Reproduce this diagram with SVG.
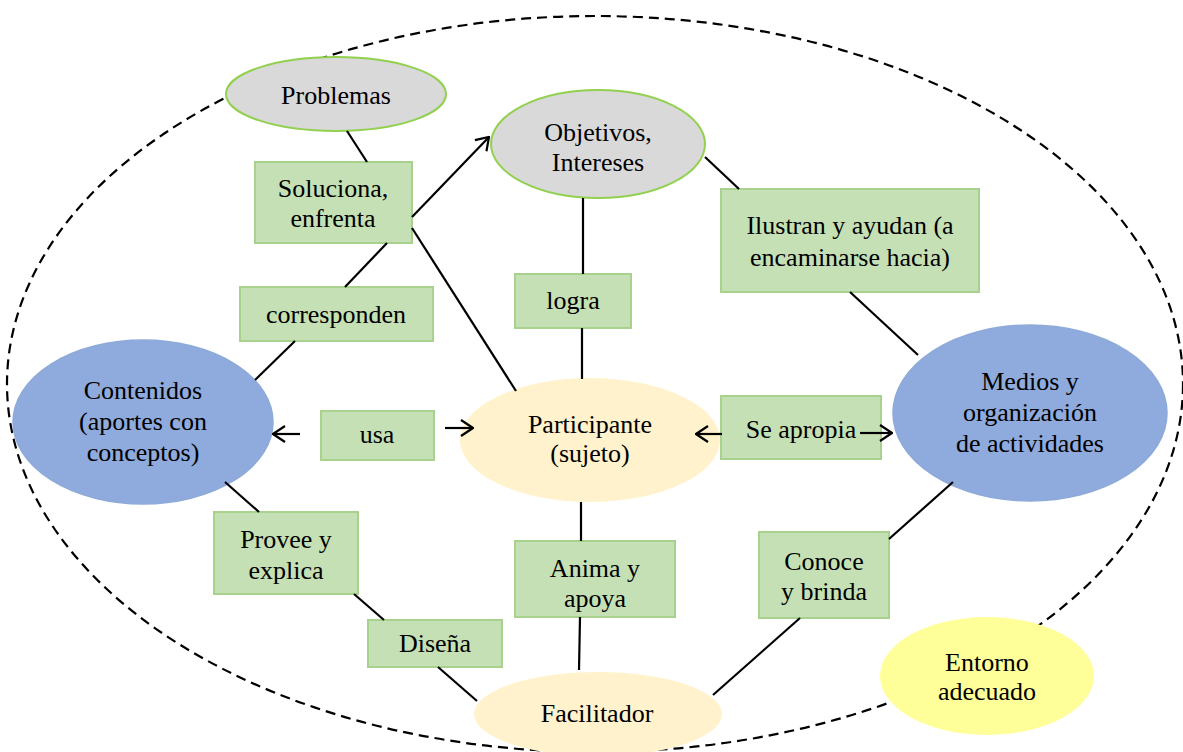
<svg xmlns="http://www.w3.org/2000/svg" width="1183" height="752" viewBox="0 0 1183 752" font-family="'Liberation Serif', 'Times New Roman', 'DejaVu Serif', serif">
<style>
text{font-family:'Liberation Serif','Times New Roman','DejaVu Serif',serif;font-size:26px;fill:#000;text-anchor:middle}
.box{fill:#c5e0b4;stroke:#a9d18e;stroke-width:2}
.gray{fill:#d9d9d9;stroke:#92d050;stroke-width:2}
.blue{fill:#8faadc;stroke:#8eaad8;stroke-width:1.5}
.cream{fill:#fff2cc}
.yellow{fill:#ffff99}
.ln{stroke:#000;stroke-width:2.2;fill:none}
.arr{stroke:#000;stroke-width:2.2;fill:none;marker-end:url(#ah)}
</style>
<defs>
<marker id="ah" viewBox="0 0 14 18" refX="13" refY="9" markerWidth="14" markerHeight="18" markerUnits="userSpaceOnUse" orient="auto">
<path d="M1,1 L13,9 L1,17" fill="none" stroke="#000" stroke-width="2.2"/>
</marker>
</defs>
<rect width="1183" height="752" fill="#fff"/>
<ellipse id="boundary" cx="595" cy="384" rx="588" ry="368" fill="none" stroke="#000" stroke-width="2.2" stroke-dasharray="10 6"/>

<g id="n-problemas"><ellipse class="gray" cx="336" cy="94" rx="110" ry="37"/><text x="336" y="104">Problemas</text></g>
<g id="n-objetivos"><ellipse class="gray" cx="598" cy="144" rx="107" ry="54"/><text x="598" y="141">Objetivos,</text><text x="598" y="171">Intereses</text></g>
<g id="n-soluciona"><rect class="box" x="255" y="162" width="157" height="81"/><text x="333" y="197">Soluciona,</text><text x="333" y="227">enfrenta</text></g>
<g id="n-corresponden"><rect class="box" x="240" y="287" width="193" height="54"/><text x="336" y="323">corresponden</text></g>
<g id="n-logra"><rect class="box" x="515" y="274" width="116" height="54"/><text x="573" y="309">logra</text></g>
<g id="n-ilustran"><rect class="box" x="721" y="189" width="258" height="103"/><text x="850" y="234">Ilustran y ayudan (a</text><text x="850" y="266">encaminarse hacia)</text></g>
<g id="n-contenidos"><ellipse class="blue" cx="143" cy="422" rx="130" ry="82"/><text x="143" y="399">Contenidos</text><text x="143" y="430">(aportes con</text><text x="143" y="461">conceptos)</text></g>
<g id="n-usa"><rect class="box" x="321" y="411" width="113" height="49"/><text x="377" y="443">usa</text></g>
<g id="n-participante"><ellipse class="cream" cx="590" cy="440" rx="130" ry="62"/><text x="590" y="433">Participante</text><text x="590" y="462">(sujeto)</text></g>
<g id="n-seapropia"><rect class="box" x="721" y="396" width="160" height="63"/><text x="801" y="438">Se apropia</text></g>
<g id="n-medios"><ellipse class="blue" cx="1030" cy="413" rx="137" ry="88"/><text x="1030" y="390">Medios y</text><text x="1030" y="421">organización</text><text x="1030" y="452">de actividades</text></g>
<g id="n-provee"><rect class="box" x="214" y="512" width="144" height="82"/><text x="286" y="548">Provee y</text><text x="286" y="579">explica</text></g>
<g id="n-anima"><rect class="box" x="515" y="541" width="160" height="76"/><text x="595" y="577">Anima y</text><text x="595" y="607">apoya</text></g>
<g id="n-conoce"><rect class="box" x="759" y="532" width="130" height="86"/><text x="824" y="570">Conoce</text><text x="824" y="600">y brinda</text></g>
<g id="n-disena"><rect class="box" x="368" y="620" width="134" height="47"/><text x="435" y="652">Diseña</text></g>
<g id="n-facilitador"><ellipse class="cream" cx="598" cy="714" rx="124" ry="42"/><text x="597" y="722">Facilitador</text></g>
<g id="n-entorno"><ellipse class="yellow" cx="987" cy="676" rx="107" ry="59"/><text x="987" y="671">Entorno</text><text x="987" y="700">adecuado</text></g>

<g id="connectors">
<line class="ln" x1="347" y1="131" x2="367" y2="162"/>
<line class="ln" x1="412" y1="228" x2="516" y2="391"/>
<line class="ln" x1="255" y1="380" x2="295" y2="341"/>
<line class="ln" x1="345" y1="287" x2="387" y2="243"/>
<line class="arr" x1="412" y1="217" x2="489" y2="137"/>
<line class="ln" x1="583" y1="198" x2="583" y2="274"/>
<line class="ln" x1="582" y1="328" x2="582" y2="379"/>
<line class="ln" x1="705" y1="157" x2="739" y2="189"/>
<line class="ln" x1="850" y1="292" x2="918" y2="355"/>
<line class="arr" x1="300" y1="434" x2="273" y2="434"/>
<line class="arr" x1="445" y1="428" x2="473" y2="428"/>
<line class="arr" x1="722" y1="434" x2="696" y2="434"/>
<line class="arr" x1="860" y1="433" x2="892" y2="433"/>
<line class="ln" x1="581" y1="502" x2="581" y2="541"/>
<line class="ln" x1="580" y1="617" x2="579" y2="670"/>
<line class="ln" x1="225" y1="482" x2="259" y2="512"/>
<line class="ln" x1="354" y1="594" x2="384" y2="620"/>
<line class="ln" x1="438" y1="667" x2="477" y2="701"/>
<line class="ln" x1="953" y1="482" x2="889" y2="539"/>
<line class="ln" x1="800" y1="618" x2="713" y2="695"/>
</g>
</svg>
